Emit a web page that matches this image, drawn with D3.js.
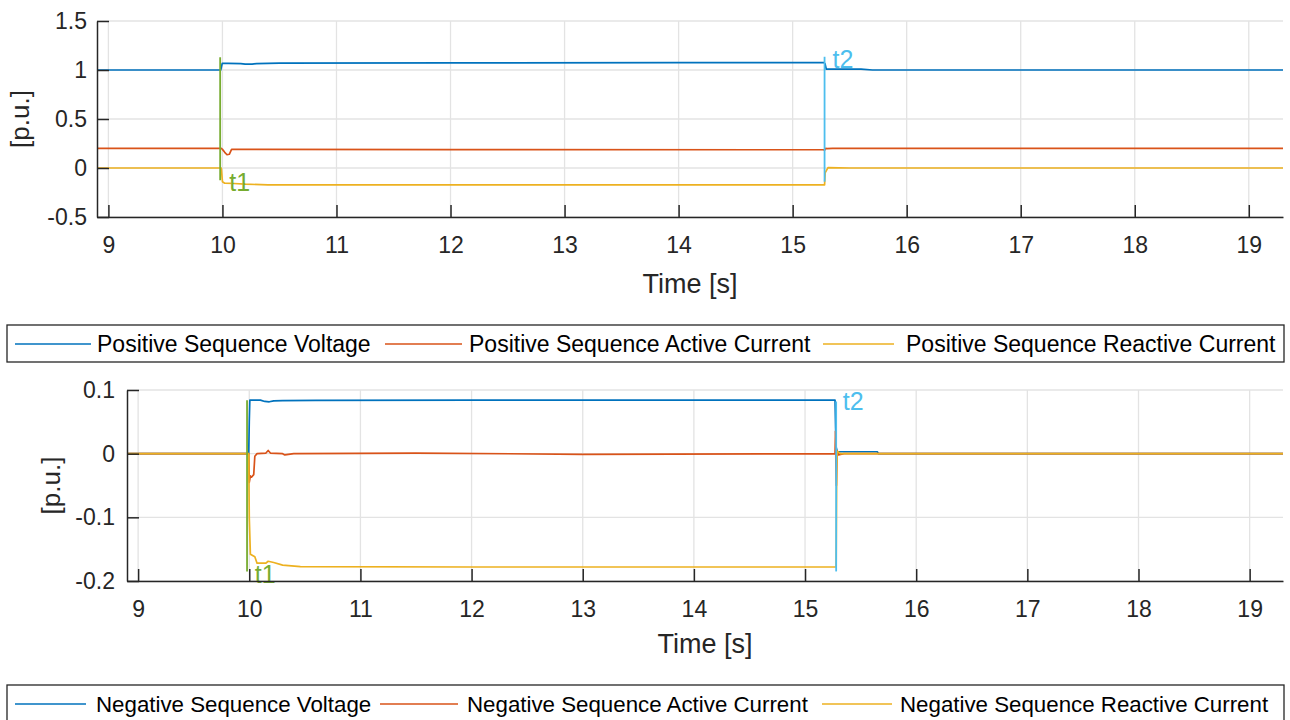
<!DOCTYPE html>
<html>
<head>
<meta charset="utf-8">
<script src="https://cdn.jsdelivr.net/npm/d3@7/dist/d3.min.js"></script>
<style>
  html, body { margin: 0; padding: 0; background: #fff; }
  svg { display: block; font-family: "Liberation Sans", Arial, Helvetica, sans-serif; }
</style>
</head>
<body>
<svg id="chart" width="1290" height="720"></svg>
<script>
// ---- data -------------------------------------------------------------
const timeTicks = [9, 10, 11, 12, 13, 14, 15, 16, 17, 18, 19];
const timeDomain = [8.9, 19.3];

const posTicks = [-0.5, 0, 0.5, 1, 1.5];
const negTicks = [-0.2, -0.1, 0, 0.1];

const posNames = ["Positive Sequence Voltage", "Positive Sequence Active Current", "Positive Sequence Reactive Current"];
const negNames = ["Negative Sequence Voltage", "Negative Sequence Active Current", "Negative Sequence Reactive Current"];

// [time s, value p.u.]
const posVoltage = [[8.9,1.0],[9.985,1.0],[9.998,1.068],[10.05,1.068],[10.16,1.066],[10.2,1.06],[10.26,1.06],[10.3,1.066],[10.5,1.07],[12,1.073],[14,1.075],[15.275,1.076],[15.285,1.06],[15.295,1.008],[15.6,1.008],[15.7,1.0],[19.3,1.0]];
const posActive = [[8.9,0.2],[9.99,0.2],[10.0,0.19],[10.02,0.16],[10.04,0.135],[10.06,0.14],[10.08,0.19],[10.3,0.19],[12,0.188],[15.27,0.186],[15.28,0.18],[15.29,0.2],[15.3,0.197],[15.35,0.2],[19.3,0.2]];
const posReactive = [[8.9,0],[9.99,0],[10.0,-0.14],[10.02,-0.155],[10.1,-0.158],[10.2,-0.165],[10.4,-0.172],[12,-0.173],[15.28,-0.173],[15.285,-0.05],[15.31,0.003],[15.5,0],[19.3,0]];

const negVoltage = [[8.9,0],[9.995,0],[10.0,0.05],[10.005,0.084],[10.1,0.084],[10.14,0.082],[10.18,0.0815],[10.22,0.083],[10.3,0.0832],[10.6,0.0838],[12,0.084],[15.27,0.084],[15.275,0.04],[15.28,0.01],[15.29,0.003],[15.65,0.003],[15.66,0],[19.3,0]];
const negActive = [[8.9,0],[9.995,0],[10.0,-0.045],[10.01,-0.035],[10.02,-0.037],[10.04,-0.033],[10.05,-0.004],[10.07,0],[10.15,0.001],[10.17,0.005],[10.19,0.001],[10.3,0],[10.32,-0.002],[10.4,0],[11.5,0.001],[13,-0.001],[15.27,0],[15.274,0.035],[15.278,-0.02],[15.282,-0.05],[15.288,0.005],[15.3,-0.002],[15.35,0],[19.3,0]];
const negReactive = [[8.9,0],[9.995,0],[10.0,-0.1],[10.01,-0.158],[10.05,-0.162],[10.07,-0.172],[10.15,-0.172],[10.17,-0.169],[10.22,-0.171],[10.3,-0.175],[10.46,-0.1775],[12,-0.178],[15.28,-0.178],[15.285,-0.02],[15.29,0.004],[15.32,0],[19.3,0]];

// event markers: time, vertical extent in each panel, label anchor
const eventNames = ["t1", "t2"];
const eventTimes = [9.98, 15.28];
const posEventSpan = [[-0.125, 1.13], [-0.14, 1.135]];
const negEventSpan = [[-0.185, 0.084], [-0.185, 0.082]];
const posEventLabel = [[10.06, -0.235], [15.35, 1.02]];
const negEventLabel = [[10.05, -0.203], [15.34, 0.0686]];

// ---- style --------------------------------------------------------------
const seriesColors = ["#0072BD", "#D95319", "#EDB120"];
const eventColors = ["#77AC30", "#4DBEEE"];
const axisColor = "#262626";
const gridColor = "#e3e3e3";
const tickFont = 23;
const labelFont = 27;

const svg = d3.select("#chart");

function drawPanel(cfg) {
  const x = d3.scaleLinear().domain(timeDomain).range([cfg.left, cfg.right]);
  const y = d3.scaleLinear().domain([cfg.yTicks[0], cfg.yTicks[cfg.yTicks.length - 1]]).range([cfg.bottom, cfg.top]);
  const g = svg.append("g");

  // grid
  g.append("g").selectAll("line").data(timeTicks).join("line")
    .attr("x1", d => x(d)).attr("x2", d => x(d))
    .attr("y1", cfg.top).attr("y2", cfg.bottom)
    .attr("stroke", gridColor).attr("stroke-width", 1.3);
  g.append("g").selectAll("line").data(cfg.yTicks).join("line")
    .attr("x1", cfg.left).attr("x2", cfg.right)
    .attr("y1", d => y(d)).attr("y2", d => y(d))
    .attr("stroke", gridColor).attr("stroke-width", 1.3);

  // series
  const line = d3.line().x(d => x(d[0])).y(d => y(d[1]));
  cfg.series.forEach((s, i) => {
    g.append("path").datum(s).attr("d", line)
      .attr("fill", "none").attr("stroke", seriesColors[i])
      .attr("stroke-width", 1.7).attr("stroke-linejoin", "round");
  });

  // event markers
  eventTimes.forEach((t, i) => {
    g.append("line")
      .attr("x1", x(t)).attr("x2", x(t))
      .attr("y1", y(cfg.eventSpan[i][0])).attr("y2", y(cfg.eventSpan[i][1]))
      .attr("stroke", eventColors[i]).attr("stroke-width", 1.8);
    g.append("text")
      .attr("x", x(cfg.eventLabel[i][0])).attr("y", y(cfg.eventLabel[i][1]))
      .attr("fill", eventColors[i]).attr("font-size", 25)
      .text(eventNames[i]);
  });

  // axes
  const xAxis = d3.axisBottom(x).tickValues(timeTicks).tickFormat(d3.format("d"))
    .tickSizeInner(-12).tickSizeOuter(0).tickPadding(20);
  const gx = g.append("g").attr("transform", `translate(0,${cfg.bottom})`).call(xAxis);
  const yAxis = d3.axisLeft(y).tickValues(cfg.yTicks).tickFormat(d => String(d))
    .tickSizeInner(-12).tickSizeOuter(0).tickPadding(cfg.yPad);
  const gy = g.append("g").attr("transform", `translate(${cfg.left},0)`).call(yAxis);
  [gx, gy].forEach(a => {
    a.select(".domain").attr("stroke", axisColor).attr("stroke-width", 1.5);
    a.selectAll(".tick line").attr("stroke", axisColor).attr("stroke-width", 1.5);
    a.selectAll(".tick text").attr("fill", axisColor).attr("font-size", tickFont)
      .attr("font-family", "Liberation Sans, Arial, sans-serif");
  });

  // axis titles
  g.append("text").attr("x", (cfg.left + cfg.right) / 2).attr("y", cfg.xTitleY)
    .attr("text-anchor", "middle").attr("font-size", labelFont).attr("fill", axisColor)
    .text("Time [s]");
  g.append("text")
    .attr("transform", `translate(${cfg.yTitleX},${(cfg.top + cfg.bottom) / 2}) rotate(-90)`)
    .attr("text-anchor", "middle").attr("font-size", labelFont - 1).attr("fill", axisColor)
    .text("[p.u.]");

  // legend
  const lg = svg.append("g");
  lg.append("rect").attr("x", 7).attr("y", cfg.legendTop).attr("width", 1277).attr("height", 37)
    .attr("fill", "#fff").attr("stroke", axisColor).attr("stroke-width", 1.3);
  const ly = cfg.legendTop + 19;
  cfg.names.forEach((name, i) => {
    const [l0, l1, tx] = cfg.legendSlots[i];
    lg.append("line").attr("x1", l0).attr("x2", l1).attr("y1", ly).attr("y2", ly)
      .attr("stroke", seriesColors[i]).attr("stroke-width", 1.6);
    lg.append("text").attr("x", tx).attr("y", ly + 8)
      .attr("font-size", cfg.legendFont).attr("fill", "#000").text(name);
  });
}

drawPanel({
  left: 97, right: 1283, top: 21, bottom: 217,
  yTicks: posTicks, yPad: 10,
  series: [posVoltage, posActive, posReactive],
  eventSpan: posEventSpan, eventLabel: posEventLabel,
  names: posNames, legendTop: 325, legendFont: 23,
  legendSlots: [[15, 91, 97], [385, 462, 469], [823, 894, 906]],
  xTitleY: 293, yTitleX: 29
});

drawPanel({
  left: 127, right: 1283, top: 390, bottom: 581,
  yTicks: negTicks, yPad: 12,
  series: [negVoltage, negActive, negReactive],
  eventSpan: negEventSpan, eventLabel: negEventLabel,
  names: negNames, legendTop: 685, legendFont: 22.3,
  legendSlots: [[15, 86, 96], [380, 458, 467], [822, 892, 900]],
  xTitleY: 653, yTitleX: 60
});
</script>
</body>
</html>
